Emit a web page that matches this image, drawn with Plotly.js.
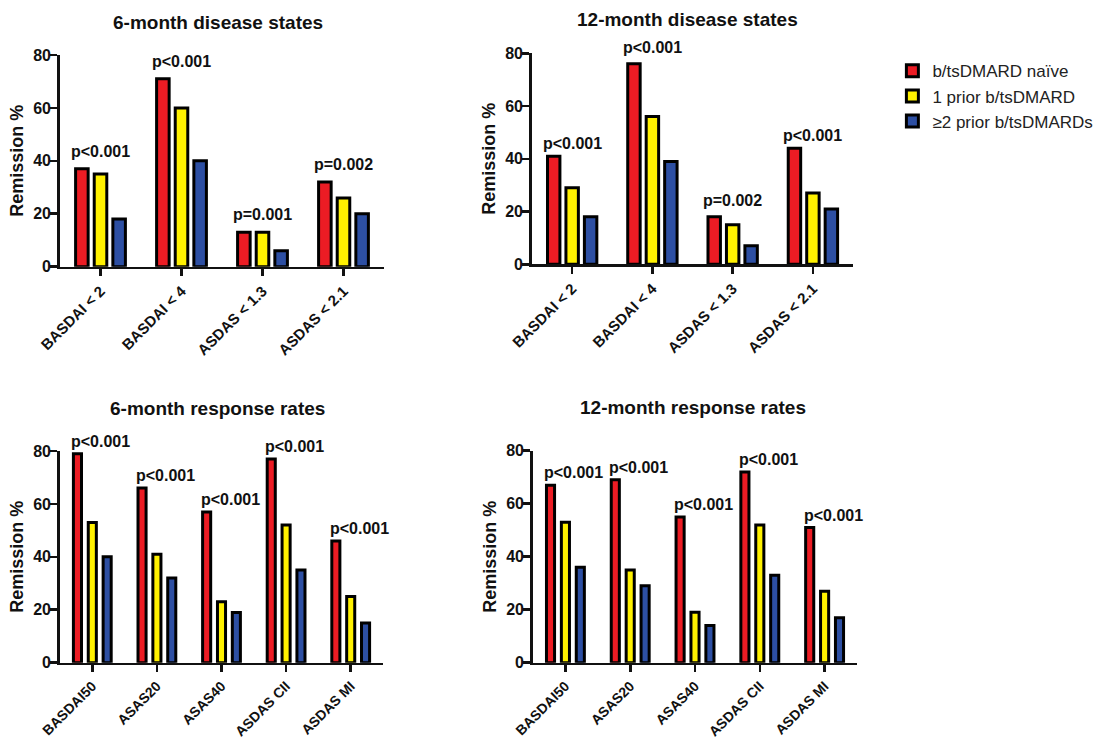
<!DOCTYPE html>
<html>
<head>
<meta charset="utf-8">
<script src="https://cdn.plot.ly/plotly-3.0.1.min.js"></script>
<style>html,body{margin:0;padding:0;background:#fff;}#chart{width:1099px;height:740px;}</style>
</head>
<body>
<div id="chart"></div>
<script>
// ---- data ----
const seriesNames = ['b/tsDMARD naïve', '1 prior b/tsDMARD', '\u22652 prior b/tsDMARDs'];

const stateCategories = ['BASDAI < 2', 'BASDAI < 4', 'ASDAS < 1.3', 'ASDAS < 2.1'];
const naive6States  = [37, 71, 13, 32];
const prior1_6States = [35, 60, 13, 26];
const prior2_6States = [18, 40, 6, 20];
const pValues6States = ['p<0.001', 'p<0.001', 'p=0.001', 'p=0.002'];

const naive12States  = [41, 76, 18, 44];
const prior1_12States = [29, 56, 15, 27];
const prior2_12States = [18, 39, 7, 21];
const pValues12States = ['p<0.001', 'p<0.001', 'p=0.002', 'p<0.001'];

const responseCategories = ['BASDAI50', 'ASAS20', 'ASAS40', 'ASDAS CII', 'ASDAS MI'];
const naive6Resp  = [79, 66, 57, 77, 46];
const prior1_6Resp = [53, 41, 23, 52, 25];
const prior2_6Resp = [40, 32, 19, 35, 15];
const pValues6Resp = ['p<0.001', 'p<0.001', 'p<0.001', 'p<0.001', 'p<0.001'];

const naive12Resp  = [67, 69, 55, 72, 51];
const prior1_12Resp = [53, 35, 19, 52, 27];
const prior2_12Resp = [36, 29, 14, 33, 17];
const pValues12Resp = ['p<0.001', 'p<0.001', 'p<0.001', 'p<0.001', 'p<0.001'];

const panelTitles = ['6-month disease states', '12-month disease states', '6-month response rates', '12-month response rates'];
const yAxisTitle = 'Remission %';

// ---- styling ----
const colors = ['#EC1C24', '#FFF100', '#2D4FA3'];
const FONT = 'Liberation Sans, Arial, Helvetica, sans-serif';

const panels = [
  {cats: stateCategories, series: [naive6States, prior1_6States, prior2_6States], p: pValues6States,
   xa: 'x', ya: 'y', dom: [0.0546, 0.3494], ydom: [0.6396, 0.9257], barW: 0.155, tickSize: 15, pAlign: 'center', pShift: [7, 7, 7, 7], titleX: 0.198, titleY: 0.970},
  {cats: stateCategories, series: [naive12States, prior1_12States, prior2_12States], p: pValues12States,
   xa: 'x2', ya: 'y2', dom: [0.4841, 0.7762], ydom: [0.6428, 0.9280], barW: 0.155, tickSize: 15, pAlign: 'center', pShift: [2, 6, 6, 2], titleX: 0.626, titleY: 0.973},
  {cats: responseCategories, series: [naive6Resp, prior1_6Resp, prior2_6Resp], p: pValues6Resp,
   xa: 'x3', ya: 'y3', dom: [0.0546, 0.3485], ydom: [0.1045, 0.3905], barW: 0.125, tickSize: 14, pAlign: 'left', pShift: [2, 2, 2, 2, 2], titleX: 0.198, titleY: 0.4486},
  {cats: responseCategories, series: [naive12Resp, prior1_12Resp, prior2_12Resp], p: pValues12Resp,
   xa: 'x4', ya: 'y4', dom: [0.4850, 0.7798], ydom: [0.1045, 0.3909], barW: 0.125, tickSize: 14, pAlign: 'left', pShift: [2, 2, 2, 2, 2], titleX: 0.631, titleY: 0.4500}
];

const traces = [];
const annotations = [];
const layout = {
  width: 1099, height: 740,
  margin: {l: 0, r: 0, t: 0, b: 0},
  paper_bgcolor: '#ffffff', plot_bgcolor: '#ffffff',
  barmode: 'group', bargap: 0.31, bargroupgap: 0,
  font: {family: FONT, color: '#111'},
  showlegend: true,
  legend: {x: 0.812, y: 0.928, xanchor: 'left', yanchor: 'top', tracegroupgap: 7,
           font: {family: FONT, size: 17, color: '#222'}, bgcolor: 'rgba(0,0,0,0)', traceorder: 'normal'},
  annotations: annotations
};

panels.forEach((pn, pi) => {
  pn.series.forEach((vals, si) => {
    traces.push({
      type: 'bar', x: pn.cats, y: vals, name: seriesNames[si],
      xaxis: pn.xa, yaxis: pn.ya, width: pn.barW,
      marker: {color: colors[si], line: {color: '#000', width: 3}},
      legendgroup: 'g' + si, showlegend: pi === 0, hoverinfo: 'x+y'
    });
  });
  const xk = pn.xa === 'x' ? 'xaxis' : 'xaxis' + pn.xa.slice(1);
  const yk = pn.ya === 'y' ? 'yaxis' : 'yaxis' + pn.ya.slice(1);
  layout[xk] = {
    domain: pn.dom, anchor: pn.ya, type: 'category',
    range: [-0.5, pn.cats.length - 0.5],
    showline: true, linewidth: 2.8, linecolor: '#111', mirror: false,
    ticks: 'outside', ticklen: 7, tickwidth: 2.6, tickcolor: '#111',
    tickangle: -45, showgrid: false, zeroline: false,
    tickfont: {family: FONT, size: pn.tickSize, color: '#111', weight: 700}
  };
  layout[yk] = {
    domain: pn.ydom, anchor: pn.xa, range: [0, 80], dtick: 20,
    showline: true, linewidth: 2.8, linecolor: '#111',
    ticks: 'outside', ticklen: 7, tickwidth: 2.6, tickcolor: '#111',
    ticklabelstandoff: -4,
    showgrid: false, zeroline: false,
    tickfont: {family: FONT, size: 16, color: '#111', weight: 700},
    title: {text: yAxisTitle, standoff: 5, font: {family: FONT, size: 18, color: '#111', weight: 700}}
  };
  annotations.push({
    xref: 'paper', yref: 'paper', x: pn.titleX, y: pn.titleY, xanchor: 'center', yanchor: 'middle',
    text: panelTitles[pi], showarrow: false,
    font: {family: FONT, size: 19, color: '#111', weight: 700}
  });
  pn.cats.forEach((c, ci) => {
    const top = Math.max(pn.series[0][ci], pn.series[1][ci], pn.series[2][ci]);
    annotations.push({
      xref: pn.xa, yref: pn.ya, x: c, y: top,
      xanchor: pn.pAlign, yanchor: 'bottom',
      xshift: pn.pAlign === 'left' ? -23 : 0, yshift: pn.pShift[ci],
      text: pn.p[ci], showarrow: false,
      font: {family: FONT, size: 16, color: '#111', weight: 700}
    });
  });
});

Plotly.newPlot('chart', traces, layout, {displayModeBar: false, staticPlot: true});
</script>
</body>
</html>
